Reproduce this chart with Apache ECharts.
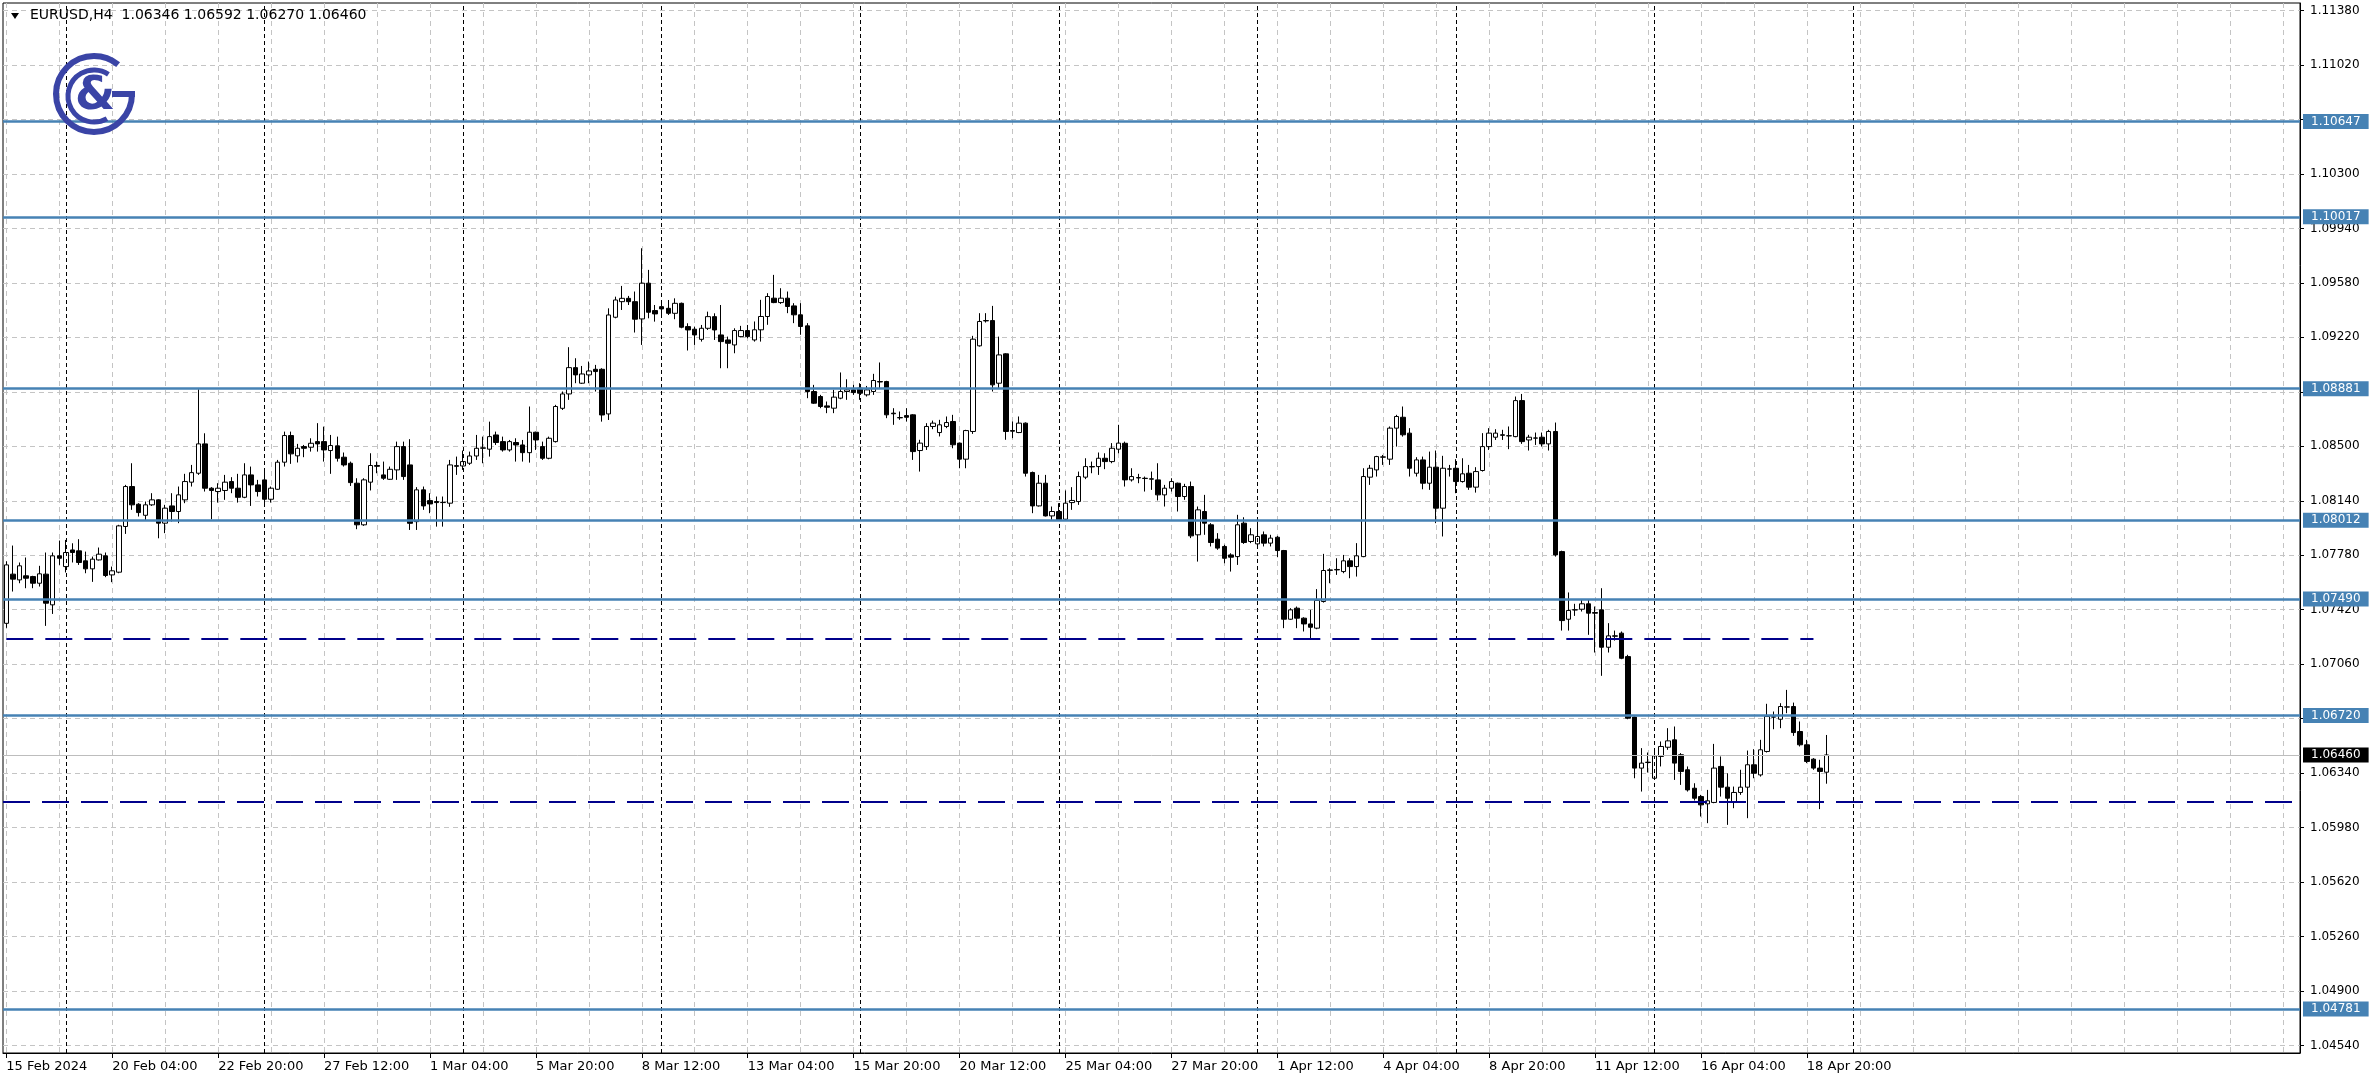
<!DOCTYPE html>
<html><head><meta charset="utf-8">
<script src="https://cdn.jsdelivr.net/npm/echarts@6/dist/echarts.min.js"></script>
<style>html,body{margin:0;padding:0;background:#fff}#c{width:2372px;height:1089px}</style>
</head><body><div id="c"></div>
<script>
const symbolName = 'EURUSD,H4';
const opens = [
1.07330,1.07655,1.07617,1.07644,1.07639,1.07595,1.07655,1.07452,1.07776,1.07705,
1.07815,1.07809,1.07743,1.07690,1.07749,1.07776,1.07650,1.07668,1.07970,1.08234,
1.08117,1.08044,1.08113,1.08146,1.07992,1.08106,1.08069,1.08146,1.08263,1.08322,
1.08516,1.08223,1.08201,1.08208,1.08267,1.08223,1.08163,1.08311,1.08245,1.08278,
1.08150,1.08216,1.08395,1.08571,1.08437,1.08498,1.08494,1.08531,1.08531,1.08472,
1.08503,1.08428,1.08388,1.08256,1.07981,1.08263,1.08373,1.08311,1.08282,1.08344,
1.08498,1.08377,1.08002,1.08212,1.08141,1.08135,1.08128,1.08124,1.08372,1.08370,
1.08388,1.08436,1.08487,1.08481,1.08575,1.08531,1.08476,1.08525,1.08509,1.08458,
1.08593,1.08498,1.08421,1.08531,1.08751,1.08846,1.09020,1.08917,1.08972,1.09009,
1.09009,1.08714,1.09353,1.09456,1.09478,1.09456,1.09342,1.09578,1.09397,1.09423,
1.09412,1.09379,1.09445,1.09291,1.09274,1.09207,1.09280,1.09357,1.09236,1.09203,
1.09170,1.09225,1.09265,1.09203,1.09270,1.09358,1.09479,1.09450,1.09479,1.09428,
1.09369,1.09296,1.08862,1.08829,1.08767,1.08752,1.08818,1.08862,1.08873,1.08884,
1.08840,1.08862,1.08928,1.08928,1.08719,1.08690,1.08703,1.08708,1.08472,1.08498,
1.08631,1.08591,1.08631,1.08664,1.08521,1.08415,1.08598,1.09164,1.09331,1.09331,
1.08917,1.09111,1.08604,1.08591,1.08653,1.08327,1.08106,1.08256,1.08040,1.08069,
1.08018,1.08128,1.08135,1.08296,1.08366,1.08366,1.08421,1.08399,1.08481,1.08520,
1.08278,1.08293,1.08289,1.08285,1.08278,1.08179,1.08223,1.08256,1.08168,1.08234,
1.07915,1.08069,1.07981,1.07886,1.07838,1.07782,1.07771,1.07992,1.07871,1.07855,
1.07915,1.07860,1.07899,1.07811,1.07357,1.07430,1.07364,1.07326,1.07298,1.07474,
1.07683,1.07683,1.07672,1.07743,1.07705,1.07771,1.08296,1.08344,1.08428,1.08415,
1.08620,1.08692,1.08587,1.08322,1.08410,1.08256,1.08362,1.08091,1.08349,1.08355,
1.08267,1.08322,1.08230,1.08340,1.08498,1.08560,1.08576,1.08569,1.08564,1.08802,
1.08542,1.08554,1.08560,1.08516,1.08598,1.07804,1.07357,1.07418,1.07423,1.07459,
1.07401,1.07419,1.07172,1.07247,1.07265,1.07110,1.06710,1.06373,1.06410,1.06306,
1.06450,1.06511,1.06560,1.06461,1.06362,1.06240,1.06185,1.06137,1.06146,1.06384,
1.06247,1.06152,1.06212,1.06247,1.06395,1.06328,1.06483,1.06710,1.06696,1.06776,
1.06780,1.06615,1.06527,1.06432,1.06373,1.06346];
const highs = [
1.07740,1.07844,1.07732,1.07765,1.07644,1.07710,1.07798,1.07798,1.07877,1.07881,
1.07859,1.07886,1.07804,1.07771,1.07831,1.07798,1.07705,1.07981,1.08245,1.08388,
1.08124,1.08135,1.08190,1.08150,1.08113,1.08190,1.08234,1.08318,1.08377,1.08877,
1.08586,1.08230,1.08256,1.08311,1.08296,1.08318,1.08388,1.08366,1.08278,1.08344,
1.08234,1.08410,1.08597,1.08597,1.08516,1.08509,1.08553,1.08653,1.08630,1.08575,
1.08564,1.08459,1.08399,1.08289,1.08289,1.08454,1.08399,1.08399,1.08366,1.08531,
1.08531,1.08547,1.08230,1.08234,1.08190,1.08168,1.08168,1.08410,1.08432,1.08472,
1.08465,1.08575,1.08564,1.08663,1.08597,1.08564,1.08542,1.08553,1.08542,1.08763,
1.08597,1.08531,1.08564,1.08774,1.08862,1.09155,1.09082,1.09031,1.09060,1.09038,
1.09016,1.09412,1.09489,1.09560,1.09494,1.09523,1.09809,1.09666,1.09434,1.09456,
1.09467,1.09478,1.09450,1.09313,1.09291,1.09302,1.09390,1.09379,1.09434,1.09225,
1.09280,1.09296,1.09302,1.09325,1.09468,1.09512,1.09633,1.09545,1.09523,1.09446,
1.09446,1.09314,1.08906,1.08840,1.08796,1.08873,1.08988,1.08943,1.08906,1.08917,
1.08899,1.08979,1.09054,1.08933,1.08752,1.08730,1.08752,1.08712,1.08543,1.08653,
1.08670,1.08675,1.08697,1.08708,1.08525,1.08609,1.09230,1.09380,1.09380,1.09428,
1.09225,1.09115,1.08664,1.08697,1.08658,1.08333,1.08311,1.08311,1.08102,1.08124,
1.08208,1.08230,1.08333,1.08421,1.08399,1.08459,1.08454,1.08521,1.08642,1.08531,
1.08355,1.08318,1.08300,1.08333,1.08388,1.08245,1.08289,1.08260,1.08252,1.08267,
1.08102,1.08179,1.07992,1.07926,1.07849,1.07793,1.08047,1.08031,1.07959,1.08003,
1.07937,1.07915,1.07908,1.07815,1.07430,1.07441,1.07370,1.07419,1.07556,1.07789,
1.07694,1.07760,1.07782,1.07760,1.07860,1.08355,1.08377,1.08437,1.08443,1.08631,
1.08708,1.08763,1.08620,1.08428,1.08432,1.08465,1.08472,1.08437,1.08377,1.08415,
1.08421,1.08377,1.08362,1.08587,1.08620,1.08613,1.08609,1.08631,1.08829,1.08846,
1.08576,1.08591,1.08591,1.08609,1.08657,1.07810,1.07534,1.07459,1.07485,1.07485,
1.07441,1.07562,1.07331,1.07282,1.07276,1.07122,1.06714,1.06505,1.06476,1.06505,
1.06549,1.06637,1.06648,1.06472,1.06384,1.06273,1.06196,1.06229,1.06533,1.06450,
1.06339,1.06251,1.06362,1.06489,1.06498,1.06560,1.06798,1.06747,1.06802,1.06890,
1.06806,1.06681,1.06560,1.06439,1.06428,1.06592];
const lows = [
1.07300,1.07540,1.07595,1.07562,1.07562,1.07573,1.07313,1.07392,1.07716,1.07666,
1.07732,1.07716,1.07661,1.07604,1.07745,1.07635,1.07602,1.07661,1.07921,1.08080,
1.08036,1.08009,1.08106,1.07892,1.07926,1.08003,1.07992,1.08124,1.08234,1.08311,
1.08201,1.08018,1.08128,1.08146,1.08190,1.08128,1.08157,1.08106,1.08168,1.08124,
1.08128,1.08212,1.08366,1.08384,1.08393,1.08428,1.08465,1.08465,1.08399,1.08318,
1.08399,1.08366,1.08238,1.07952,1.07974,1.08208,1.08322,1.08278,1.08278,1.08278,
1.08278,1.07947,1.07947,1.08080,1.08058,1.07969,1.07969,1.08100,1.08311,1.08344,
1.08377,1.08410,1.08388,1.08432,1.08509,1.08465,1.08465,1.08399,1.08399,1.08392,
1.08476,1.08410,1.08414,1.08525,1.08740,1.08807,1.08917,1.08912,1.08917,1.08862,
1.08663,1.08674,1.09346,1.09401,1.09434,1.09252,1.09170,1.09346,1.09324,1.09368,
1.09368,1.09340,1.09280,1.09133,1.09170,1.09192,1.09269,1.09203,1.09016,1.09016,
1.09115,1.09220,1.09214,1.09192,1.09192,1.09303,1.09446,1.09441,1.09380,1.09314,
1.09237,1.08818,1.08780,1.08752,1.08719,1.08719,1.08811,1.08807,1.08840,1.08807,
1.08829,1.08840,1.08884,1.08686,1.08642,1.08675,1.08664,1.08410,1.08333,1.08476,
1.08613,1.08565,1.08620,1.08487,1.08355,1.08355,1.08582,1.09159,1.09318,1.08862,
1.08884,1.08543,1.08554,1.08587,1.08300,1.08058,1.08102,1.08036,1.08014,1.08009,
1.08014,1.08080,1.08113,1.08283,1.08322,1.08311,1.08349,1.08388,1.08454,1.08234,
1.08267,1.08256,1.08201,1.08212,1.08142,1.08102,1.08201,1.08069,1.08146,1.07893,
1.07738,1.07915,1.07838,1.07816,1.07727,1.07672,1.07716,1.07855,1.07860,1.07838,
1.07838,1.07838,1.07767,1.07298,1.07353,1.07298,1.07276,1.07232,1.07291,1.07467,
1.07595,1.07650,1.07661,1.07628,1.07639,1.07767,1.08245,1.08300,1.08377,1.08377,
1.08498,1.08564,1.08300,1.08300,1.08216,1.08212,1.07992,1.07904,1.08300,1.08190,
1.08260,1.08212,1.08194,1.08333,1.08476,1.08542,1.08542,1.08481,1.08560,1.08516,
1.08472,1.08509,1.08498,1.08472,1.07771,1.07282,1.07282,1.07379,1.07408,1.07254,
1.07137,1.06983,1.07137,1.07216,1.07093,1.06696,1.06306,1.06218,1.06344,1.06295,
1.06384,1.06494,1.06295,1.06262,1.06218,1.06159,1.06053,1.06009,1.06141,1.06185,
1.05998,1.06108,1.06196,1.06042,1.06306,1.06317,1.06476,1.06630,1.06637,1.06736,
1.06586,1.06516,1.06406,1.06362,1.06102,1.06270];
const closes = [
1.07716,1.07622,1.07710,1.07628,1.07595,1.07657,1.07463,1.07776,1.07760,1.07798,
1.07798,1.07732,1.07690,1.07754,1.07787,1.07646,1.07677,1.07974,1.08234,1.08113,
1.08062,1.08113,1.08146,1.07992,1.08091,1.08069,1.08179,1.08267,1.08326,1.08516,
1.08223,1.08208,1.08223,1.08263,1.08223,1.08163,1.08311,1.08245,1.08201,1.08150,
1.08223,1.08395,1.08571,1.08450,1.08487,1.08487,1.08520,1.08516,1.08476,1.08505,
1.08421,1.08377,1.08260,1.07981,1.08278,1.08373,1.08368,1.08289,1.08348,1.08498,
1.08300,1.07991,1.08212,1.08106,1.08119,1.08128,1.08130,1.08377,1.08368,1.08399,
1.08436,1.08487,1.08490,1.08564,1.08525,1.08476,1.08531,1.08509,1.08458,1.08593,
1.08542,1.08421,1.08553,1.08763,1.08846,1.09020,1.08972,1.08978,1.08998,1.08994,
1.08707,1.09368,1.09467,1.09478,1.09456,1.09340,1.09578,1.09386,1.09375,1.09408,
1.09379,1.09445,1.09287,1.09269,1.09236,1.09280,1.09357,1.09269,1.09192,1.09181,
1.09265,1.09265,1.09225,1.09270,1.09358,1.09490,1.09450,1.09479,1.09424,1.09369,
1.09292,1.08862,1.08785,1.08763,1.08758,1.08825,1.08862,1.08873,1.08855,1.08851,
1.08873,1.08935,1.08925,1.08708,1.08715,1.08688,1.08692,1.08465,1.08521,1.08631,
1.08653,1.08642,1.08657,1.08510,1.08415,1.08604,1.09208,1.09325,1.09329,1.08906,
1.09104,1.08598,1.08600,1.08653,1.08322,1.08106,1.08256,1.08040,1.08069,1.08014,
1.08124,1.08142,1.08300,1.08366,1.08364,1.08421,1.08399,1.08487,1.08521,1.08278,
1.08300,1.08291,1.08287,1.08283,1.08179,1.08223,1.08267,1.08168,1.08234,1.07908,
1.08080,1.07992,1.07864,1.07827,1.07760,1.07767,1.07981,1.07864,1.07915,1.07904,
1.07860,1.07893,1.07811,1.07357,1.07419,1.07364,1.07326,1.07304,1.07481,1.07679,
1.07680,1.07686,1.07743,1.07705,1.07776,1.08300,1.08355,1.08432,1.08430,1.08620,
1.08697,1.08576,1.08355,1.08410,1.08256,1.08362,1.08091,1.08355,1.08351,1.08267,
1.08318,1.08230,1.08333,1.08498,1.08587,1.08587,1.08573,1.08570,1.08802,1.08531,
1.08560,1.08555,1.08516,1.08598,1.07782,1.07348,1.07415,1.07420,1.07459,1.07397,
1.07397,1.07172,1.07247,1.07245,1.07099,1.06703,1.06373,1.06406,1.06412,1.06454,
1.06516,1.06553,1.06406,1.06351,1.06229,1.06174,1.06130,1.06157,1.06373,1.06247,
1.06174,1.06212,1.06247,1.06395,1.06339,1.06494,1.06714,1.06712,1.06780,1.06778,
1.06608,1.06527,1.06417,1.06373,1.06351,1.06460];

const tickLabels = ['15 Feb 2024','20 Feb 04:00','22 Feb 20:00','27 Feb 12:00','1 Mar 04:00',
  '5 Mar 20:00','8 Mar 12:00','13 Mar 04:00','15 Mar 20:00','20 Mar 12:00','25 Mar 04:00',
  '27 Mar 20:00','1 Apr 12:00','4 Apr 04:00','8 Apr 20:00','11 Apr 12:00','16 Apr 04:00','18 Apr 20:00'];
const yTicks = [1.04540,1.04900,1.05260,1.05620,1.05980,1.06340,1.06700,1.07060,1.07420,1.07780,
  1.08140,1.08500,1.08860,1.09220,1.09580,1.09940,1.10300,1.10660,1.11020,1.11380];
const levels = [1.10647,1.10017,1.08881,1.08012,1.07490,1.06720,1.04781];
const dashedShort = 1.0723;   // ends near 19 Apr
const dashedLong = 1.0615;
const lastPrice = 1.06460;

// layout constants
const SLOTS = 347;
const LABEL_STEP = 16;
const GRID_STEP = 8;
const FONT = 'DejaVu Sans';

// bar times: H4 bars from 15 Feb 2024 12:00, weekdays only
const categories = [];
const mondays = [];
(function(){
  let t = Date.UTC(2024, 1, 15, 12);
  const p = n => String(n).padStart(2,'0');
  while (categories.length < SLOTS) {
    const d = new Date(t);
    const wd = d.getUTCDay();
    if (wd !== 0 && wd !== 6) {
      categories.push(d.getUTCFullYear()+'.'+p(d.getUTCMonth()+1)+'.'+p(d.getUTCDate())+' '+p(d.getUTCHours())+':00');
      if (wd === 1 && d.getUTCHours() === 0) mondays.push(categories.length - 1);
    }
    t += 4*3600*1000;
  }
})();
const separators = mondays.filter(i => i <= opens.length + 5);

const candleData = opens.map((o, i) => [o, closes[i], lows[i], highs[i]]);
const n = opens.length;

const blueLabel = {
  show: true, position: 'end', distance: 3, color: '#ffffff', backgroundColor: '#4682b4',
  padding: [1, 8, 1, 8], fontSize: 12, fontFamily: FONT, lineHeight: 13
};

const markData = [];
separators.forEach(i => markData.push({
  xAxis: categories[i], label: {show: false},
  lineStyle: {color: '#000000', width: 1, type: [4, 3]}
}));
markData.push([
  {coord: [categories[0], dashedShort], lineStyle: {color: '#00008b', width: 2, type: [27, 12]}, label: {show: false}},
  {coord: [categories[n - 3], dashedShort]}
]);
markData.push({yAxis: dashedLong, label: {show: false}, lineStyle: {color: '#00008b', width: 2, type: [27, 12]}});
markData.push({
  yAxis: lastPrice, lineStyle: {color: '#bdbdbd', width: 1, type: 'solid'},
  label: Object.assign({}, blueLabel, {backgroundColor: '#000000', formatter: lastPrice.toFixed(5)})
});
levels.forEach(v => markData.push({
  yAxis: v, lineStyle: {color: '#4682b4', width: 2.5, type: 'solid'},
  label: Object.assign({}, blueLabel, {formatter: v.toFixed(5)})
}));

const last = n - 1;
const headerText = symbolName + '  ' + opens[last].toFixed(5) + ' ' + highs[last].toFixed(5) + ' ' +
  lows[last].toFixed(5) + ' ' + closes[last].toFixed(5);
const logoColor = '#3a44a6';

const option = {
  animation: false,
  backgroundColor: '#ffffff',
  grid: {left: 3, top: 3, right: 72, bottom: 36, show: true, borderColor: '#000000', borderWidth: 1, backgroundColor: '#ffffff'},
  xAxis: {
    type: 'category', data: categories, boundaryGap: true,
    axisLine: {show: true, lineStyle: {color: '#000000', width: 1}},
    axisTick: {show: true, alignWithLabel: true, length: 5, lineStyle: {color: '#000000'},
      interval: i => i % LABEL_STEP === 0 && i / LABEL_STEP < tickLabels.length},
    axisLabel: {
      interval: i => i % LABEL_STEP === 0 && i / LABEL_STEP < tickLabels.length,
      formatter: (v, i) => tickLabels[i / LABEL_STEP] || '',
      align: 'left', margin: 7, color: '#000000', fontSize: 13, fontFamily: FONT
    },
    splitLine: {show: true, alignWithLabel: true, interval: i => i % GRID_STEP === 0,
      lineStyle: {color: '#c4c4c4', width: 1, type: [5, 4]}}
  },
  yAxis: {
    type: 'value', position: 'right', min: 1.0449, max: 1.1143, scale: true,
    axisLine: {show: true, lineStyle: {color: '#000000', width: 1}},
    axisTick: {show: true, length: 4, customValues: yTicks, lineStyle: {color: '#000000'}},
    axisLabel: {customValues: yTicks, formatter: v => v.toFixed(5), margin: 10, color: '#000000', fontSize: 12, fontFamily: FONT},
    splitLine: {show: true, lineStyle: {color: '#c4c4c4', width: 1, type: [5, 4]}}
  },
  series: [{
    type: 'candlestick',
    data: candleData,
    barWidth: 5,
    itemStyle: {color: '#ffffff', color0: '#000000', borderColor: '#000000', borderColor0: '#000000', borderColorDoji: '#000000', borderWidth: 1},
    markLine: {silent: true, symbol: ['none', 'none'], animation: false, precision: 6, z: 10, data: markData}
  }],
  graphic: [
    {type: 'polygon', shape: {points: [[11, 13], [19, 13], [15, 19]]}, style: {fill: '#000000'}, z: 100},
    {type: 'text', left: 30, top: 8, style: {text: headerText, fill: '#000000', fontSize: 14, fontFamily: FONT}, z: 100},
    {type: 'arc', shape: {cx: 94, cy: 94, r: 38, startAngle: 0, endAngle: 5.4, clockwise: true},
      style: {fill: 'none', stroke: logoColor, lineWidth: 6}, z: 100},
    {type: 'line', shape: {x1: 112, y1: 94, x2: 135, y2: 94}, style: {stroke: logoColor, lineWidth: 6}, z: 100},
    {type: 'arc', shape: {cx: 94, cy: 96, r: 26, startAngle: 1.05, endAngle: 5.3, clockwise: true},
      style: {fill: 'none', stroke: logoColor, lineWidth: 5}, z: 100},
    {type: 'text', x: 95, y: 97, style: {text: '&', fill: logoColor, fontSize: 46, fontWeight: 'bold', fontFamily: FONT, align: 'center', verticalAlign: 'middle'}, z: 100}
  ]
};

const chart = echarts.init(document.getElementById('c'), null, {renderer: 'canvas', width: 2372, height: 1089});
chart.setOption(option);
</script>
</body></html>
